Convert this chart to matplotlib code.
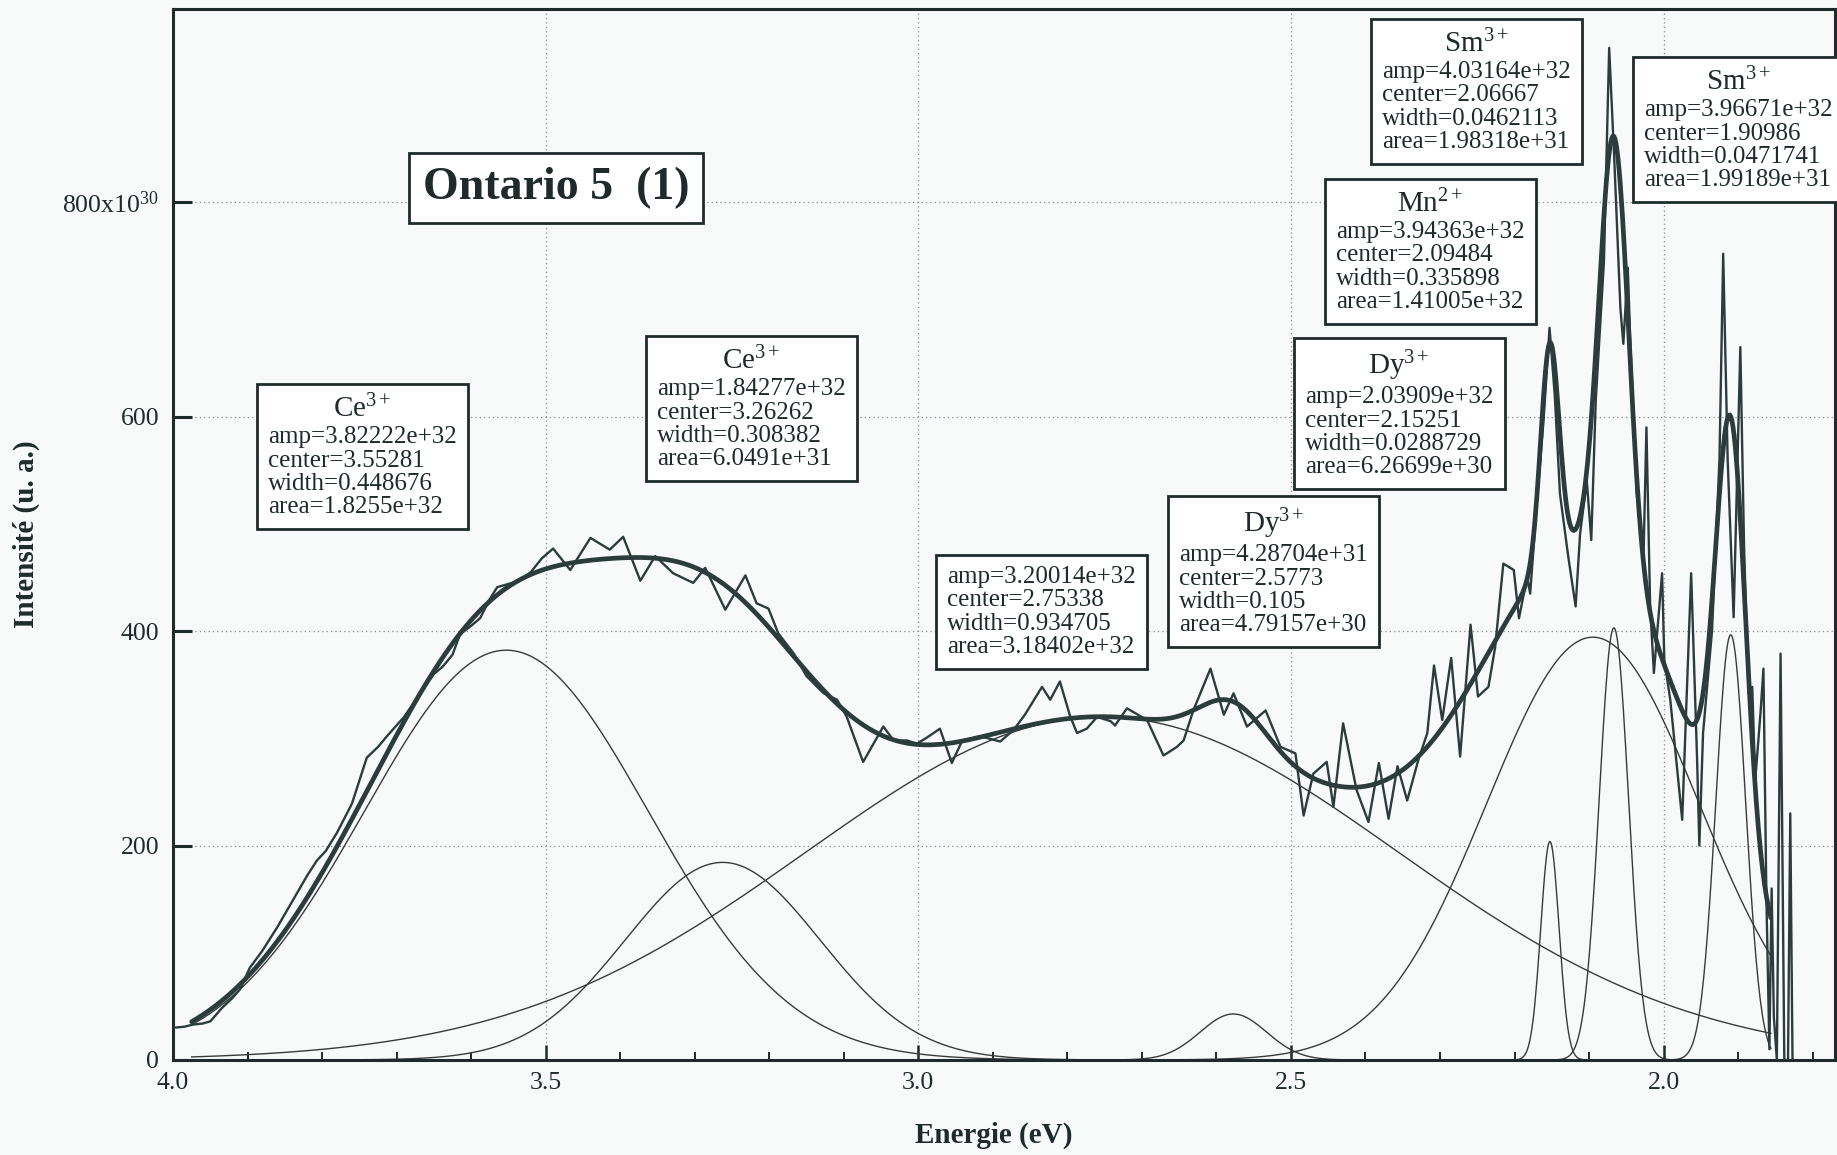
import numpy as np
import matplotlib
matplotlib.use("Agg")
import matplotlib.pyplot as plt
from matplotlib.offsetbox import TextArea, VPacker, AnnotationBbox
from matplotlib.ticker import MultipleLocator, FormatStrFormatter

plt.rcParams['font.family'] = ['Liberation Serif', 'DejaVu Serif']
plt.rcParams['mathtext.fontset'] = 'custom'
plt.rcParams['mathtext.rm'] = 'Liberation Serif'
plt.rcParams['mathtext.it'] = 'Liberation Serif:italic'
plt.rcParams['mathtext.bf'] = 'Liberation Serif:bold'

# ---------------- data (intensity in units of 1e30) ----------------
raw_energy = [4.000, 3.985, 3.973, 3.960, 3.950, 3.935, 3.920, 3.910, 3.897, 3.880,
              3.860, 3.840, 3.820, 3.807, 3.795, 3.780, 3.760, 3.740, 3.725, 3.713,
              3.690, 3.665, 3.650, 3.638, 3.625, 3.615, 3.600, 3.588, 3.575, 3.565,
              3.550, 3.535, 3.520, 3.505, 3.490, 3.467, 3.440, 3.414, 3.396, 3.373,
              3.353, 3.329, 3.302, 3.286, 3.259, 3.232, 3.217, 3.201, 3.188, 3.167,
              3.150, 3.127, 3.109, 3.096, 3.074, 3.047, 3.033, 3.015, 3.002, 2.990,
              2.971, 2.955, 2.941, 2.917, 2.890, 2.872, 2.857, 2.834, 2.823, 2.810,
              2.796, 2.787, 2.774, 2.760, 2.742, 2.736, 2.720, 2.693, 2.671, 2.653,
              2.644, 2.631, 2.608, 2.590, 2.577, 2.559, 2.534, 2.514, 2.494, 2.483,
              2.470, 2.452, 2.443, 2.430, 2.412, 2.396, 2.382, 2.369, 2.357, 2.344,
              2.329, 2.317, 2.308, 2.297, 2.285, 2.273, 2.259, 2.249, 2.235, 2.226,
              2.215, 2.201, 2.194, 2.183, 2.179, 2.170, 2.161, 2.153, 2.146, 2.139,
              2.128, 2.118, 2.112, 2.103, 2.097, 2.091, 2.080, 2.073, 2.066, 2.058,
              2.054, 2.048, 2.045, 2.036, 2.027, 2.023, 2.018, 2.013, 2.002, 1.999,
              1.991, 1.975, 1.963, 1.955, 1.952, 1.947, 1.935, 1.925, 1.920, 1.914,
              1.906, 1.897, 1.892, 1.886, 1.881, 1.877, 1.870, 1.866, 1.862, 1.858,
              1.855, 1.852, 1.848, 1.843, 1.838, 1.833, 1.830, 1.827]
raw_intensity = [30, 31, 33, 34, 36, 48, 58, 66, 86, 102,
                 124, 148, 172, 186, 195, 212, 239, 282, 292, 302,
                 320, 345, 360, 367, 378, 397, 405, 412, 430, 441,
                 444, 447, 455, 468, 477, 457, 487, 476, 488, 447,
                 470, 454, 445, 459, 420, 452, 426, 421, 398, 379,
                 358, 342, 336, 320, 278, 311, 298, 298, 295, 300,
                 309, 277, 298, 302, 297, 308, 322, 348, 336, 353,
                 320, 305, 309, 320, 316, 312, 328, 317, 284, 292,
                 298, 326, 365, 322, 342, 311, 326, 292, 286, 228,
                 267, 278, 236, 314, 252, 222, 277, 225, 274, 242,
                 280, 305, 368, 317, 375, 283, 406, 339, 348, 385,
                 463, 457, 412, 451, 435, 520, 597, 683, 620, 528,
                 470, 423, 491, 540, 485, 615, 745, 944, 838, 702,
                 668, 739, 677, 528, 466, 590, 423, 361, 454, 373,
                 336, 224, 454, 280, 200, 305, 400, 560, 752, 560,
                 413, 665, 479, 342, 348, 261, 323, 365, 150, 10,
                 160, 40, 0, 379, 0, 0, 230, 0]

ion_labels = ["Ce$^{3+}$", "Ce$^{3+}$", "", "Dy$^{3+}$", "Dy$^{3+}$",
              "Mn$^{2+}$", "Sm$^{3+}$", "Sm$^{3+}$"]
amp = [3.82222e32, 1.84277e32, 3.20014e32, 4.28704e31, 2.03909e32,
       3.94363e32, 4.03164e32, 3.96671e32]
center = [3.55281, 3.26262, 2.75338, 2.5773, 2.15251, 2.09484, 2.06667, 1.90986]
width = [0.448676, 0.308382, 0.934705, 0.105, 0.0288729, 0.335898,
         0.0462113, 0.0471741]
area = [1.8255e32, 6.0491e31, 3.18402e32, 4.79157e30, 6.26699e30,
        1.41005e32, 1.98318e31, 1.99189e31]

fit_range = (3.975, 1.856)
x_ticks = [4.0, 3.5, 3.0, 2.5, 2.0]
y_ticks = [0, 200, 400, 600, 800]
y_ticklabels = ["0", "200", "400", "600", "800x10$^{30}$"]
title_text = "Ontario 5  (1)"

# box frame positions (axes fraction, top-left corner of the frame)
box_pos = [(0.0529, 0.6396), (0.2870, 0.6853), (0.4615, 0.4769), (0.6011, 0.5330),
           (0.6769, 0.6834), (0.6955, 0.8348), (0.7232, 0.9871), (0.8809, 0.9509)]

# ---------------- figure ----------------
bg = '#f8fafa'
ink = '#1f2a2a'
line_col = '#2c3c3b'
fig = plt.figure(figsize=(18.37, 11.55), dpi=100, facecolor=bg)
ax = fig.add_axes([0.0942, 0.0823, 0.9047, 0.9096], facecolor=bg)

E = np.linspace(fit_range[0], fit_range[1], 1500)
comps = []
for a, c, w in zip(amp, center, width):
    g = (a / 1e30) * np.exp(-4 * np.log(2) * ((E - c) / w) ** 2)
    comps.append(g)
    ax.plot(E, g, color='#3a3a3a', lw=1.0, zorder=2)

ax.plot(raw_energy, raw_intensity, color=line_col, lw=1.7, zorder=3,
        solid_joinstyle='round')
ax.plot(E, np.sum(comps, axis=0), color=line_col, lw=3.4, zorder=4,
        solid_capstyle='round')

ax.set_xlim(4.0, 1.77)
ax.set_ylim(0, 980)
ax.set_xticks(x_ticks)
ax.xaxis.set_major_formatter(FormatStrFormatter('%.1f'))
ax.xaxis.set_minor_locator(MultipleLocator(0.1))
ax.set_yticks(y_ticks)
ax.set_yticklabels(y_ticklabels)
ax.tick_params(axis='x', which='major', direction='in', length=11, width=1.8,
               labelsize=18.5, pad=9, color=ink, labelcolor=ink)
ax.tick_params(axis='x', which='minor', direction='in', length=6, width=1.4, color=ink)
ax.tick_params(axis='y', which='major', direction='in', length=14, width=2.2,
               labelsize=18.5, pad=10, color=ink, labelcolor=ink)
for s in ax.spines.values():
    s.set_linewidth(2.2)
    s.set_color(ink)
ax.set_axisbelow(True)
ax.grid(True, which='major', linestyle=(0, (1, 2.5)), color='#8c8c8c', lw=0.9)

ax.set_xlabel("Energie (eV)", fontsize=21, fontweight='bold', color=ink)
ax.set_ylabel("Intensité (u. a.)", fontsize=21, fontweight='bold', color=ink)
ax.xaxis.set_label_coords(0.494, -0.059)
ax.yaxis.set_label_coords(-0.08, 0.5)

# title box
ax.text(0.2307, 0.830, title_text, transform=ax.transAxes, ha='center', va='center',
        fontsize=33, fontweight='bold', color=ink, zorder=6,
        bbox=dict(boxstyle='square,pad=0.3', fc='white', ec=ink, lw=2.0))

# parameter boxes
for lab, a, c, w, ar, pos in zip(ion_labels, amp, center, width, area, box_pos):
    body = "amp=%g\ncenter=%g\nwidth=%g\narea=%g" % (a, c, w, ar)
    body_ta = TextArea(body, textprops=dict(fontsize=18, color=ink, linespacing=1.08))
    children = []
    if lab:
        children.append(TextArea(lab, textprops=dict(fontsize=21, color=ink)))
    children.append(body_ta)
    pack = VPacker(children=children, align='center', pad=5, sep=2)
    ab = AnnotationBbox(pack, pos, xycoords='axes fraction',
                        box_alignment=(0, 1), frameon=True, pad=0.1, fontsize=10,
                        zorder=6,
                        bboxprops=dict(boxstyle='square', ec=ink, lw=2.0, fc='white'))
    ax.add_artist(ab)

fig.savefig("out.png", dpi=100, facecolor=bg)
